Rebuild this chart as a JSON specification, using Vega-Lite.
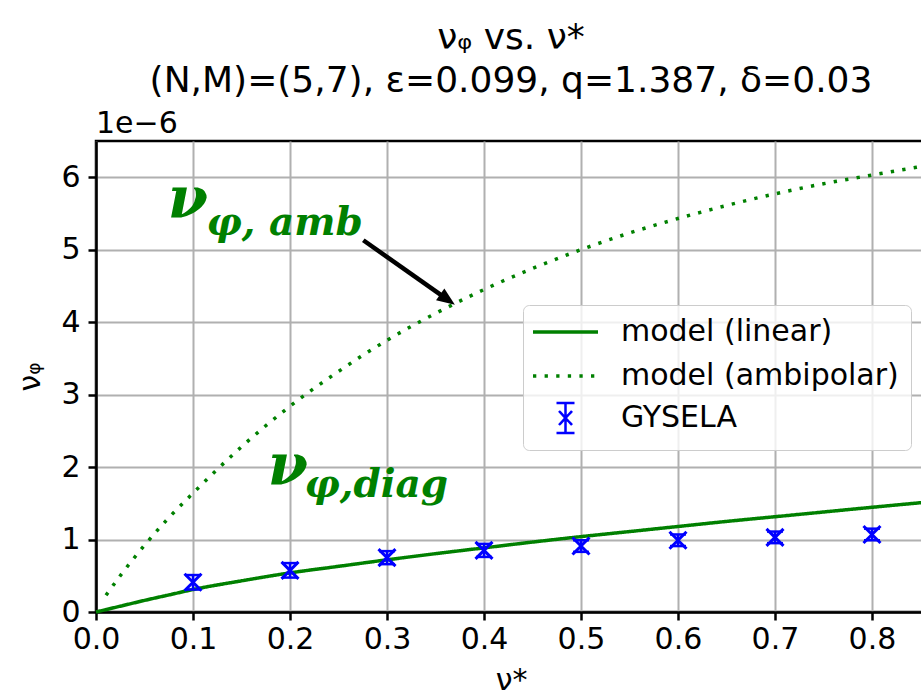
{
  "$schema": "https://vega.github.io/schema/vega-lite/v6.json",
  "width": 830,
  "height": 471,
  "autosize": {"type": "none"},
  "padding": {"left": 96, "top": 141, "right": 0, "bottom": 85},
  "background": "white",
  "title": {
    "text": ["νᵩ vs. ν*", "(N,M)=(5,7), ε=0.099, q=1.387, δ=0.03"],
    "font": "DejaVu Sans",
    "fontSize": 36,
    "fontWeight": "normal",
    "color": "black",
    "anchor": "middle",
    "frame": "group",
    "lineHeight": 43,
    "offset": 9
  },
  "config": {
    "view": {"stroke": "black", "strokeWidth": 2.5},
    "axis": {
      "domainColor": "black", "domainWidth": 2.5,
      "tickColor": "black", "tickWidth": 2.5, "tickSize": 8,
      "gridColor": "#b0b0b0", "gridWidth": 2,
      "labelFont": "DejaVu Sans", "labelFontSize": 30, "labelColor": "black",
      "titleFont": "DejaVu Sans", "titleFontSize": 30, "titleFontWeight": "normal", "titleColor": "black",
      "labelOverlap": false
    }
  },
  "datasets": {
    "curves": [
      {"series": "model (linear)", "x": 0, "y": 0},
      {"series": "model (linear)", "x": 0.025, "y": 0.08},
      {"series": "model (linear)", "x": 0.05, "y": 0.16},
      {"series": "model (linear)", "x": 0.075, "y": 0.235},
      {"series": "model (linear)", "x": 0.1, "y": 0.31},
      {"series": "model (linear)", "x": 0.15, "y": 0.43},
      {"series": "model (linear)", "x": 0.2, "y": 0.54},
      {"series": "model (linear)", "x": 0.25, "y": 0.63},
      {"series": "model (linear)", "x": 0.3, "y": 0.72},
      {"series": "model (linear)", "x": 0.35, "y": 0.805},
      {"series": "model (linear)", "x": 0.4, "y": 0.885},
      {"series": "model (linear)", "x": 0.45, "y": 0.965},
      {"series": "model (linear)", "x": 0.5, "y": 1.04},
      {"series": "model (linear)", "x": 0.55, "y": 1.11},
      {"series": "model (linear)", "x": 0.6, "y": 1.18},
      {"series": "model (linear)", "x": 0.65, "y": 1.25},
      {"series": "model (linear)", "x": 0.7, "y": 1.315},
      {"series": "model (linear)", "x": 0.75, "y": 1.38},
      {"series": "model (linear)", "x": 0.8, "y": 1.445},
      {"series": "model (linear)", "x": 0.8557, "y": 1.515},
      {"series": "model (ambipolar)", "x": 0.0103, "y": 0.23},
      {"series": "model (ambipolar)", "x": 0.025, "y": 0.5},
      {"series": "model (ambipolar)", "x": 0.05, "y": 0.92},
      {"series": "model (ambipolar)", "x": 0.075, "y": 1.3},
      {"series": "model (ambipolar)", "x": 0.1, "y": 1.64},
      {"series": "model (ambipolar)", "x": 0.15, "y": 2.28},
      {"series": "model (ambipolar)", "x": 0.2, "y": 2.84},
      {"series": "model (ambipolar)", "x": 0.25, "y": 3.32},
      {"series": "model (ambipolar)", "x": 0.3, "y": 3.75},
      {"series": "model (ambipolar)", "x": 0.35, "y": 4.12},
      {"series": "model (ambipolar)", "x": 0.4, "y": 4.45},
      {"series": "model (ambipolar)", "x": 0.45, "y": 4.74},
      {"series": "model (ambipolar)", "x": 0.5, "y": 5.0},
      {"series": "model (ambipolar)", "x": 0.55, "y": 5.23},
      {"series": "model (ambipolar)", "x": 0.6, "y": 5.43},
      {"series": "model (ambipolar)", "x": 0.65, "y": 5.61},
      {"series": "model (ambipolar)", "x": 0.7, "y": 5.77},
      {"series": "model (ambipolar)", "x": 0.75, "y": 5.91},
      {"series": "model (ambipolar)", "x": 0.8, "y": 6.03},
      {"series": "model (ambipolar)", "x": 0.8557, "y": 6.16}
    ],
    "gysela": [
      {"series": "GYSELA", "x": 0.1, "y": 0.41, "lo": 0.31, "hi": 0.51},
      {"series": "GYSELA", "x": 0.2, "y": 0.575, "lo": 0.475, "hi": 0.675},
      {"series": "GYSELA", "x": 0.3, "y": 0.75, "lo": 0.66, "hi": 0.84},
      {"series": "GYSELA", "x": 0.4, "y": 0.85, "lo": 0.76, "hi": 0.94},
      {"series": "GYSELA", "x": 0.5, "y": 0.91, "lo": 0.83, "hi": 0.99},
      {"series": "GYSELA", "x": 0.6, "y": 0.99, "lo": 0.91, "hi": 1.07},
      {"series": "GYSELA", "x": 0.7, "y": 1.03, "lo": 0.95, "hi": 1.11},
      {"series": "GYSELA", "x": 0.8, "y": 1.07, "lo": 0.99, "hi": 1.15}
    ],
    "offsetText": [{"x": 0, "y": 6.5, "t": "1e−6"}],
    "annBig": [
      {"x": 0.074, "y": 5.44, "t": "ν"},
      {"x": 0.177, "y": 1.75, "t": "ν"}
    ],
    "annSub": [
      {"x": 0.114, "y": 5.2, "t": "φ, amb"},
      {"x": 0.215, "y": 1.59, "t": "φ,diag"}
    ],
    "arrow": [{"x": 0.2756, "y": 5.13, "x2": 0.3599, "y2": 4.336}],
    "arrowHead": [{"x": 0.370, "y": 4.24, "angle": 35.3}]
  },
  "layer": [
    {
      "data": {"name": "curves"},
      "mark": {"type": "line", "strokeWidth": 3.5, "strokeCap": "butt", "interpolate": "monotone"},
      "encoding": {
        "x": {"field": "x", "type": "quantitative", "scale": {"domain": [0, 0.8557], "nice": false, "zero": false},
              "axis": {"values": [0, 0.1, 0.2, 0.3, 0.4, 0.5, 0.6, 0.7, 0.8], "format": ".1f", "title": "ν*", "labelFlush": false, "labelPadding": 4, "titlePadding": 11}},
        "y": {"field": "y", "type": "quantitative", "scale": {"domain": [0, 6.5], "nice": false, "zero": false},
              "axis": {"values": [0, 1, 2, 3, 4, 5, 6], "format": "d", "title": "νᵩ", "labelPadding": 8, "titlePadding": 15}},
        "color": {"field": "series", "type": "nominal",
          "scale": {"domain": ["model (linear)", "model (ambipolar)", "GYSELA"], "range": ["#008000", "#008000", "#0000ff"]},
          "legend": {
            "title": null, "orient": "none", "legendX": 427, "legendY": 164,
            "padding": 12, "rowPadding": 0, "symbolSize": 1600, "symbolType": "stroke",
            "labelFont": "DejaVu Sans", "labelFontSize": 30, "labelColor": "black", "labelOffset": 56, "labelLimit": 500,
            "fillColor": "rgba(255,255,255,0.8)", "strokeColor": "#cccccc", "cornerRadius": 6,
            "encode": {"symbols": {"update": {
              "shape": {"signal": "datum.value === 'GYSELA' ? 'M0.325,-0.75L1.225,-0.75M0.775,-0.75L0.775,0.75M0.325,0.75L1.225,0.75M0.45,-0.35L1.1,0.35M0.45,0.35L1.1,-0.35' : 'M0.775,-0.75M0.775,0.75M-0.85,0L2.4,0'"},
              "strokeDash": {"signal": "datum.value === 'model (ambipolar)' ? [3.3, 8.3] : [1, 0]"},
              "strokeWidth": {"signal": "datum.value === 'GYSELA' ? 2.5 : 3.5"},
              "fill": {"value": "transparent"},
              "stroke": {"scale": "color", "field": "value"},
              "size": {"value": 1600}
            }}}
          }},
        "strokeDash": {"field": "series", "type": "nominal",
          "scale": {"domain": ["model (linear)", "model (ambipolar)"], "range": [[1, 0], [3.3, 8.3]]},
          "legend": null}
      }
    },
    {
      "data": {"name": "gysela"},
      "mark": {"type": "rule", "color": "#0000ff", "strokeWidth": 2.5},
      "encoding": {
        "x": {"field": "x", "type": "quantitative"},
        "y": {"field": "lo", "type": "quantitative"},
        "y2": {"field": "hi"}
      }
    },
    {
      "data": {"name": "gysela"},
      "mark": {"type": "point", "shape": "M-1,0L1,0", "size": 256, "filled": false, "color": "#0000ff", "strokeWidth": 2.5, "opacity": 1},
      "encoding": {
        "x": {"field": "x", "type": "quantitative"},
        "y": {"field": "lo", "type": "quantitative"}
      }
    },
    {
      "data": {"name": "gysela"},
      "mark": {"type": "point", "shape": "M-1,0L1,0", "size": 256, "filled": false, "color": "#0000ff", "strokeWidth": 2.5, "opacity": 1},
      "encoding": {
        "x": {"field": "x", "type": "quantitative"},
        "y": {"field": "hi", "type": "quantitative"}
      }
    },
    {
      "data": {"name": "gysela"},
      "mark": {"type": "point", "shape": "M-1,-1L1,1M-1,1L1,-1", "size": 289, "filled": false, "color": "#0000ff", "strokeWidth": 3, "opacity": 1},
      "encoding": {
        "x": {"field": "x", "type": "quantitative"},
        "y": {"field": "y", "type": "quantitative"}
      }
    },
    {
      "data": {"name": "offsetText"},
      "mark": {"type": "text", "align": "left", "baseline": "alphabetic", "dy": -8, "font": "DejaVu Sans", "fontSize": 30, "color": "black"},
      "encoding": {
        "x": {"field": "x", "type": "quantitative"},
        "y": {"field": "y", "type": "quantitative"},
        "text": {"field": "t"}
      }
    },
    {
      "data": {"name": "annBig"},
      "mark": {"type": "text", "align": "left", "baseline": "alphabetic", "font": "DejaVu Serif", "fontStyle": "italic", "fontWeight": "bold", "fontSize": 58, "color": "#008000"},
      "encoding": {
        "x": {"field": "x", "type": "quantitative"},
        "y": {"field": "y", "type": "quantitative"},
        "text": {"field": "t"}
      }
    },
    {
      "data": {"name": "annSub"},
      "mark": {"type": "text", "align": "left", "baseline": "alphabetic", "font": "DejaVu Serif", "fontStyle": "italic", "fontWeight": "bold", "fontSize": 39, "color": "#008000"},
      "encoding": {
        "x": {"field": "x", "type": "quantitative"},
        "y": {"field": "y", "type": "quantitative"},
        "text": {"field": "t"}
      }
    },
    {
      "data": {"name": "arrow"},
      "mark": {"type": "rule", "color": "black", "strokeWidth": 4.5},
      "encoding": {
        "x": {"field": "x", "type": "quantitative"},
        "y": {"field": "y", "type": "quantitative"},
        "x2": {"field": "x2"},
        "y2": {"field": "y2"}
      }
    },
    {
      "data": {"name": "arrowHead"},
      "mark": {"type": "point", "shape": "M0,0L-2,-0.8L-2,0.8Z", "size": 324, "filled": true, "color": "black", "opacity": 1, "strokeWidth": 0},
      "encoding": {
        "x": {"field": "x", "type": "quantitative"},
        "y": {"field": "y", "type": "quantitative"},
        "angle": {"field": "angle", "type": "quantitative", "scale": null}
      }
    }
  ]
}
